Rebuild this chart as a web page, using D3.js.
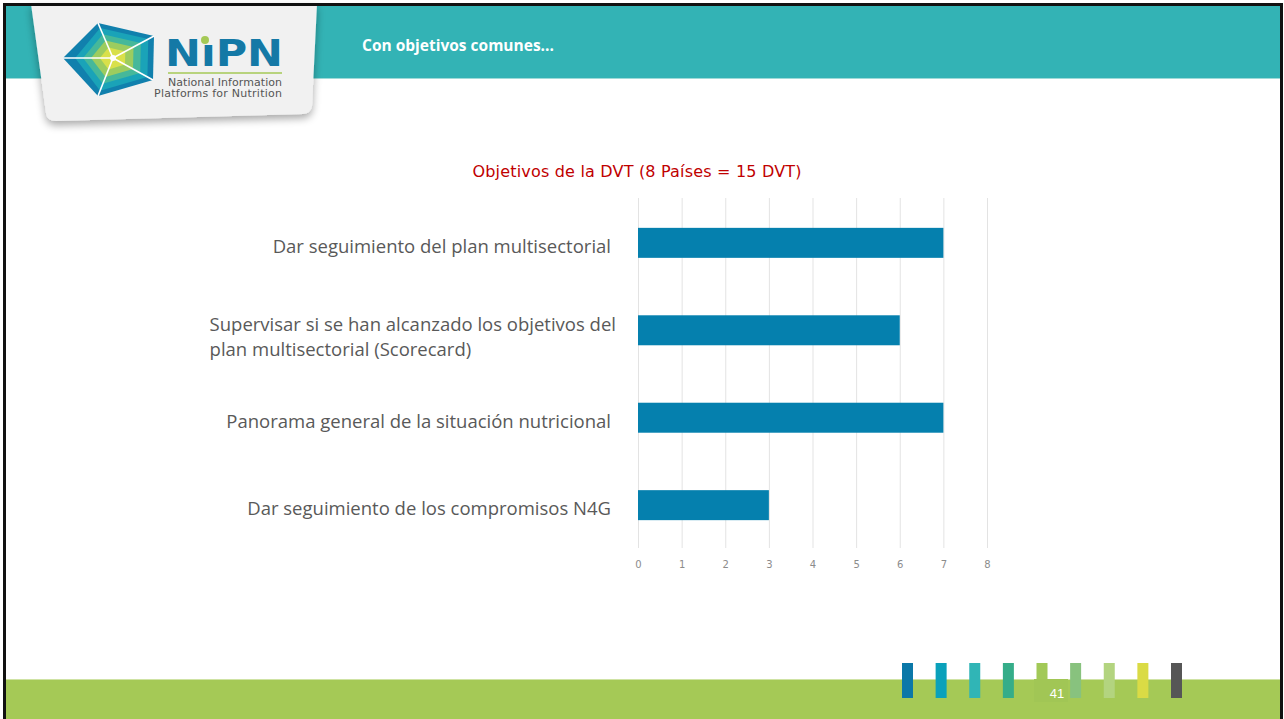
<!DOCTYPE html>
<html>
<head>
<meta charset="utf-8">
<script src="https://cdn.jsdelivr.net/npm/d3@7"></script>
<style>
  html, body { margin: 0; padding: 0; background: #fff; }
  svg { display: block; }
</style>
</head>
<body>
<svg id="slide" width="1284" height="719"></svg>
<script>
// Chart data
const categories = [
    'Dar seguimiento del plan multisectorial',
    'Supervisar si se han alcanzado los objetivos del|plan multisectorial (Scorecard)',
    'Panorama general de la situación nutricional',
    'Dar seguimiento de los compromisos N4G'
];
const values = [7, 6, 7, 3];
const xTicks = [0, 1, 2, 3, 4, 5, 6, 7, 8];
const chartTitle = 'Objetivos de la DVT (8 Países = 15 DVT)';
const slideTitle = 'Con objetivos comunes...';
const pageNumber = '41';
const stripeColors = ['#0b78a8', '#0aa1bb', '#30b5b6', '#35ad89', '#a2c957', '#88c27e', '#b3d47f', '#dadb45', '#565656'];

const svg = d3.select('#slide');

// Background frame
svg.append('rect').attr('x', 0).attr('y', 0).attr('width', 1284).attr('height', 719).attr('fill', '#fff');

// Header band
svg.append('rect').attr('x', 4).attr('y', 4).attr('width', 1277).attr('height', 74).attr('fill', '#33b3b5');
svg.append('line').attr('x1', 4).attr('x2', 1281).attr('y1', 78.5).attr('y2', 78.5)
    .attr('stroke', '#9fdad8').attr('stroke-width', 1);

svg.append('text')
    .attr('x', 362).attr('y', 51)
    .attr('fill', '#fff')
    .attr('font-family', 'Open Sans, sans-serif')
    .attr('font-weight', 700)
    .attr('font-size', 15.5)
    .text(slideTitle);

// Footer band
svg.append('rect').attr('x', 4).attr('y', 679).attr('width', 1277).attr('height', 40).attr('fill', '#a5c956');
svg.append('line').attr('x1', 4).attr('x2', 1281).attr('y1', 679.5).attr('y2', 679.5)
    .attr('stroke', '#cfe3a4').attr('stroke-width', 1);

// Footer stripes
const stripeX = d3.scalePoint().domain(d3.range(stripeColors.length)).range([902, 1171]);
svg.append('g').selectAll('rect')
    .data(stripeColors)
    .join('rect')
    .attr('x', (d, i) => stripeX(i))
    .attr('y', 663)
    .attr('width', 11)
    .attr('height', 35)
    .attr('fill', d => d);

svg.append('rect').attr('x', 1034).attr('y', 679).attr('width', 34).attr('height', 23).attr('fill', '#a1c655');
svg.append('text')
    .attr('x', 1057).attr('y', 698)
    .attr('text-anchor', 'middle')
    .attr('fill', '#fff')
    .attr('font-family', 'Liberation Sans, Arial, sans-serif')
    .attr('font-size', 13)
    .text(pageNumber);

// Logo card with shadow
const defs = svg.append('defs');
const shadow = defs.append('filter').attr('id', 'shadow').attr('x', '-20%').attr('y', '-20%').attr('width', '140%').attr('height', '150%');
shadow.append('feGaussianBlur').attr('in', 'SourceAlpha').attr('stdDeviation', 4);
shadow.append('feOffset').attr('dx', 0).attr('dy', 4).attr('result', 'blur');
shadow.append('feComponentTransfer').append('feFuncA').attr('type', 'linear').attr('slope', 0.35);
const merge = shadow.append('feMerge');
merge.append('feMergeNode');
merge.append('feMergeNode').attr('in', 'SourceGraphic');

svg.append('path')
    .attr('d', 'M31,4 L317,4 L312,106 Q311,113 303,114 L56,121 Q47,121 46,113 Z')
    .attr('fill', '#f1f1f1')
    .attr('filter', 'url(#shadow)');

// Logo polygon
const logo = svg.append('g');
const outer = [[63, 58], [98, 23], [154, 36], [153, 80], [98, 96]];
const centre = [113, 58];
const shrink = (pts, k) => pts.map(p => [centre[0] + (p[0] - centre[0]) * k, centre[1] + (p[1] - centre[1]) * k]);
const layers = [
    { k: 1.0, c: '#1180ad' },
    { k: 0.86, c: '#1aa3b8' },
    { k: 0.68, c: '#46b89a' },
    { k: 0.5, c: '#9ccc5f' },
    { k: 0.3, c: '#d9e04a' }
];
layers.forEach(l => {
    logo.append('polygon')
        .attr('points', shrink(l.k === 1 ? outer : outer.map((p, i) => [p[0] + (i === 0 ? 6 : 0), p[1]]), l.k).join(' '))
        .attr('fill', l.c);
});
outer.forEach(p => {
    logo.append('line')
        .attr('x1', centre[0]).attr('y1', centre[1])
        .attr('x2', p[0]).attr('y2', p[1])
        .attr('stroke', '#fff').attr('stroke-width', 1.6);
});
logo.append('circle').attr('cx', centre[0]).attr('cy', centre[1]).attr('r', 3).attr('fill', '#fff');

logo.append('text')
    .attr('x', 165).attr('y', 66)
    .attr('fill', '#1479a6')
    .attr('font-family', 'DejaVu Sans, sans-serif')
    .attr('font-weight', 700)
    .attr('font-size', 37)
    .attr('textLength', 118)
    .attr('lengthAdjust', 'spacingAndGlyphs')
    .text('N\u0131PN');
logo.append('circle').attr('cx', 205).attr('cy', 40).attr('r', 4).attr('fill', '#a5c956');
logo.append('line').attr('x1', 168).attr('x2', 282).attr('y1', 73).attr('y2', 73)
    .attr('stroke', '#a5c956').attr('stroke-width', 1.5);
logo.append('text')
    .attr('x', 282).attr('y', 86)
    .attr('text-anchor', 'end')
    .attr('fill', '#555')
    .attr('font-family', 'DejaVu Sans, sans-serif')
    .attr('font-size', 11)
    .attr('textLength', 114)
    .text('National Information');
logo.append('text')
    .attr('x', 282).attr('y', 97)
    .attr('text-anchor', 'end')
    .attr('fill', '#555')
    .attr('font-family', 'DejaVu Sans, sans-serif')
    .attr('font-size', 11)
    .attr('textLength', 128)
    .text('Platforms for Nutrition');

// Slide border
svg.append('rect').attr('x', 4.5).attr('y', 4.5).attr('width', 1277).attr('height', 716)
    .attr('fill', 'none').attr('stroke', '#111').attr('stroke-width', 3);

// Chart
const x = d3.scaleLinear().domain([0, 8]).range([638, 987]);
const y = d3.scaleBand().domain(categories).range([199, 549]).paddingInner(0.657).paddingOuter(0.33);

svg.append('text')
    .attr('x', 637).attr('y', 177)
    .attr('text-anchor', 'middle')
    .attr('fill', '#c00000')
    .attr('font-family', 'DejaVu Sans, sans-serif')
    .attr('font-size', 16)
    .attr('textLength', 329)
    .text(chartTitle);

// Grid lines
svg.append('g').selectAll('line')
    .data(xTicks)
    .join('line')
    .attr('x1', d => x(d) + 0.5).attr('x2', d => x(d) + 0.5)
    .attr('y1', 198).attr('y2', 548)
    .attr('stroke', '#e3e3e3').attr('stroke-width', 1);

// Bars
svg.append('g').selectAll('rect')
    .data(values)
    .join('rect')
    .attr('x', x(0))
    .attr('y', (d, i) => y(categories[i]))
    .attr('width', d => x(d) - x(0))
    .attr('height', y.bandwidth())
    .attr('fill', '#0580ae');

// X axis
const xAxis = svg.append('g')
    .attr('transform', 'translate(0,548)')
    .call(d3.axisBottom(x).tickValues(xTicks).tickSize(0).tickPadding(13));
xAxis.select('.domain').remove();
xAxis.selectAll('text')
    .attr('fill', '#8c8c8c')
    .attr('font-family', 'DejaVu Sans, sans-serif')
    .attr('font-size', 10);

// Category labels: single lines right-aligned, wrapped lines left-aligned as a block
const labels = svg.append('g');
const labelRight = 611;
categories.forEach(c => {
    const lines = c.split('|');
    const mid = y(c) + y.bandwidth() / 2;
    const lh = 25;
    const t = labels.append('text')
        .attr('fill', '#595959')
        .attr('font-family', 'Open Sans, sans-serif')
        .attr('font-size', 18.5);
    lines.forEach((ln, i) => {
        t.append('tspan')
            .attr('y', mid + 10 + (i - (lines.length - 1) / 2) * lh + (lines.length > 1 ? 3 : 0))
            .text(ln);
    });
    if (lines.length === 1) {
        t.attr('text-anchor', 'end').selectAll('tspan').attr('x', labelRight);
    } else {
        const w = d3.max(t.selectAll('tspan').nodes(), n => n.getComputedTextLength());
        t.selectAll('tspan').attr('x', labelRight + 5 - w);
    }
});
</script>
</body>
</html>
